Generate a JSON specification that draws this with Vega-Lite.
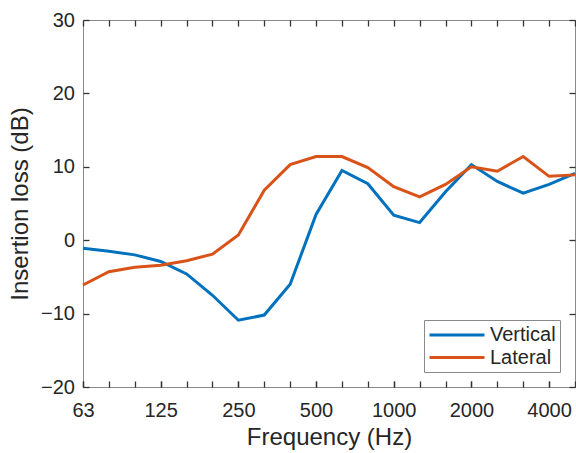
{
  "$schema": "https://vega.github.io/schema/vega-lite/v6.json",
  "width": 492,
  "height": 367,
  "autosize": {"type": "none"},
  "padding": {"left": 83, "top": 20, "right": 1, "bottom": 66},
  "background": "white",
  "config": {
    "view": {"stroke": "#8a8a8a", "strokeWidth": 1},
    "font": "Liberation Sans",
    "axis": {
      "domain": false,
      "grid": false,
      "ticks": true,
      "tickColor": "#333333",
      "tickOpacity": 1,
      "tickWidth": 1.3,
      "tickSize": 6,
      "offset": -6,
      "zindex": 1,
      "labelFont": "Liberation Sans",
      "titleFont": "Liberation Sans",
      "labelColor": "#262626",
      "titleColor": "#262626",
      "labelFontSize": 20,
      "titleFontSize": 24,
      "titleFontWeight": "normal"
    }
  },
  "data": {
    "values": [
      {"f": 63, "s": "Vertical", "v": -1.1},
      {"f": 80, "s": "Vertical", "v": -1.5},
      {"f": 100, "s": "Vertical", "v": -2.0},
      {"f": 125, "s": "Vertical", "v": -2.9},
      {"f": 160, "s": "Vertical", "v": -4.6},
      {"f": 200, "s": "Vertical", "v": -7.5},
      {"f": 250, "s": "Vertical", "v": -10.9},
      {"f": 315, "s": "Vertical", "v": -10.2},
      {"f": 400, "s": "Vertical", "v": -6.0},
      {"f": 500, "s": "Vertical", "v": 3.5},
      {"f": 630, "s": "Vertical", "v": 9.5},
      {"f": 800, "s": "Vertical", "v": 7.7},
      {"f": 1000, "s": "Vertical", "v": 3.4},
      {"f": 1250, "s": "Vertical", "v": 2.4},
      {"f": 1600, "s": "Vertical", "v": 6.6},
      {"f": 2000, "s": "Vertical", "v": 10.3},
      {"f": 2500, "s": "Vertical", "v": 8.0},
      {"f": 3150, "s": "Vertical", "v": 6.4},
      {"f": 4000, "s": "Vertical", "v": 7.6},
      {"f": 5000, "s": "Vertical", "v": 9.1},
      {"f": 63, "s": "Lateral", "v": -6.1},
      {"f": 80, "s": "Lateral", "v": -4.3},
      {"f": 100, "s": "Lateral", "v": -3.7},
      {"f": 125, "s": "Lateral", "v": -3.4},
      {"f": 160, "s": "Lateral", "v": -2.8},
      {"f": 200, "s": "Lateral", "v": -1.9},
      {"f": 250, "s": "Lateral", "v": 0.7},
      {"f": 315, "s": "Lateral", "v": 6.8},
      {"f": 400, "s": "Lateral", "v": 10.3},
      {"f": 500, "s": "Lateral", "v": 11.4},
      {"f": 630, "s": "Lateral", "v": 11.4},
      {"f": 800, "s": "Lateral", "v": 9.9},
      {"f": 1000, "s": "Lateral", "v": 7.3},
      {"f": 1250, "s": "Lateral", "v": 5.9},
      {"f": 1600, "s": "Lateral", "v": 7.6},
      {"f": 2000, "s": "Lateral", "v": 10.0},
      {"f": 2500, "s": "Lateral", "v": 9.4},
      {"f": 3150, "s": "Lateral", "v": 11.4},
      {"f": 4000, "s": "Lateral", "v": 8.7},
      {"f": 5000, "s": "Lateral", "v": 8.9}
    ]
  },
  "layer": [
    {
      "mark": {"type": "line", "strokeWidth": 3},
      "encoding": {
        "x": {
          "field": "f", "type": "ordinal",
          "scale": {"type": "point", "padding": 0, "domain": [63,80,100,125,160,200,250,315,400,500,630,800,1000,1250,1600,2000,2500,3150,4000,5000]},
          "axis": {
            "orient": "bottom",
            "title": "Frequency (Hz)",
            "values": [63, 125, 250, 500, 1000, 2000, 4000],
            "labelAngle": 0,
            "labelPadding": 13,
            "titlePadding": 5
          }
        },
        "y": {
          "field": "v", "type": "quantitative",
          "scale": {"domain": [-20, 30], "nice": false, "zero": false},
          "axis": {
            "orient": "left",
            "title": "Insertion loss (dB)",
            "values": [-20, -10, 0, 10, 20, 30],
            "labelPadding": 8.5,
            "titlePadding": 8
          }
        },
        "color": {
          "field": "s", "type": "nominal",
          "scale": {"domain": ["Vertical", "Lateral"], "range": ["#0072BD", "#D95319"]},
          "legend": {
            "title": null,
            "orient": "bottom-right",
            "offset": 15,
            "padding": 4,
            "strokeColor": "#8a8a8a",
            "fillColor": "white",
            "symbolType": "M-3,0H3",
            "symbolSize": 336,
            "symbolStrokeWidth": 3,
            "symbolOffset": 18,
            "labelOffset": 22,
            "labelFontSize": 20,
            "labelFont": "Liberation Sans",
            "labelColor": "#262626",
            "rowPadding": 1.5
          }
        }
      }
    },
    {
      "mark": {"type": "line", "strokeOpacity": 0},
      "encoding": {
        "x": {
          "field": "f", "type": "ordinal",
          "axis": {"orient": "top", "title": null, "labels": false, "ticks": true}
        },
        "y": {
          "field": "v", "type": "quantitative",
          "axis": {"orient": "right", "title": null, "labels": false, "ticks": true, "values": [-20, -10, 0, 10, 20, 30]}
        },
        "detail": {"field": "s"}
      }
    },
    {
      "mark": {"type": "line", "strokeOpacity": 0},
      "encoding": {
        "x": {
          "field": "f", "type": "ordinal",
          "axis": {"orient": "bottom", "title": null, "labels": false, "ticks": true}
        },
        "y": {
          "field": "v", "type": "quantitative",
          "axis": null
        },
        "detail": {"field": "s"}
      }
    }
  ],
  "resolve": {"axis": {"x": "independent", "y": "independent"}}
}
